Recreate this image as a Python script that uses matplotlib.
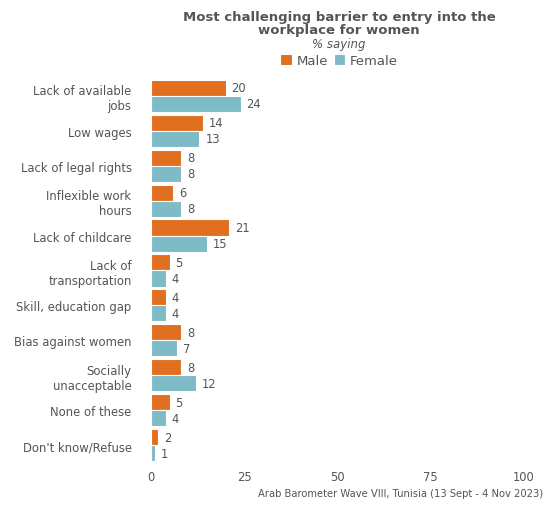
import numpy as np
import matplotlib.pyplot as plt

categories = ['Lack of available\njobs', 'Low wages', 'Lack of legal rights',
              'Inflexible work\nhours', 'Lack of childcare', 'Lack of\ntransportation',
              'Skill, education gap', 'Bias against women', 'Socially\nunacceptable',
              'None of these', "Don't know/Refuse"]
male = [20, 14, 8, 6, 21, 5, 4, 8, 8, 5, 2]
female = [24, 13, 8, 8, 15, 4, 4, 7, 12, 4, 1]
xticks = [0, 25, 50, 75, 100]

male_color = '#E06F1F'
female_color = '#7EBBC7'
text_color = '#555555'

plt.rcParams['font.family'] = ['DejaVu Sans']

fig = plt.figure(figsize=(5.47, 5.06), dpi=100)
ax = fig.add_axes([0.276, 0.077, 0.682, 0.773])

y = np.arange(len(categories))
h = 0.46
ax.barh(y - h / 2, male, height=h, color=male_color, edgecolor='white', linewidth=0.8, label='Male')
ax.barh(y + h / 2, female, height=h, color=female_color, edgecolor='white', linewidth=0.8, label='Female')

for i in range(len(categories)):
    ax.text(male[i] + 1.6, y[i] - h / 2, str(male[i]), va='center', ha='left', fontsize=8.3, color=text_color)
    ax.text(female[i] + 1.6, y[i] + h / 2, str(female[i]), va='center', ha='left', fontsize=8.3, color=text_color)

ax.set_xlim(0, 100)
ax.set_ylim(len(categories) - 0.4, -0.6)
ax.set_yticks(y)
ax.set_yticklabels(categories, fontsize=8.4, color=text_color)
ax.set_xticks(xticks)
ax.set_xticklabels([str(v) for v in xticks], fontsize=8.3, color=text_color)
ax.tick_params(axis='y', length=0, pad=14)
ax.tick_params(axis='x', length=0, pad=3)
for s in ax.spines.values():
    s.set_visible(False)

fig.text(0.62, 0.953, 'Most challenging barrier to entry into the\nworkplace for women',
         ha='center', va='center', fontsize=9.5, fontweight='bold', color=text_color, linespacing=0.95)
fig.text(0.62, 0.913, '% saying', ha='center', va='center', fontsize=8.5, style='italic', color=text_color)
fig.legend(loc='center', bbox_to_anchor=(0.62, 0.879), ncol=2, frameon=False, fontsize=9.5,
           handlelength=0.9, handleheight=0.9, handletextpad=0.35, columnspacing=0.4, labelcolor=text_color)
fig.text(0.993, 0.024, 'Arab Barometer Wave VIII, Tunisia (13 Sept - 4 Nov 2023)',
         ha='right', va='center', fontsize=7.2, color=text_color)

fig.savefig('out.png', dpi=100)
